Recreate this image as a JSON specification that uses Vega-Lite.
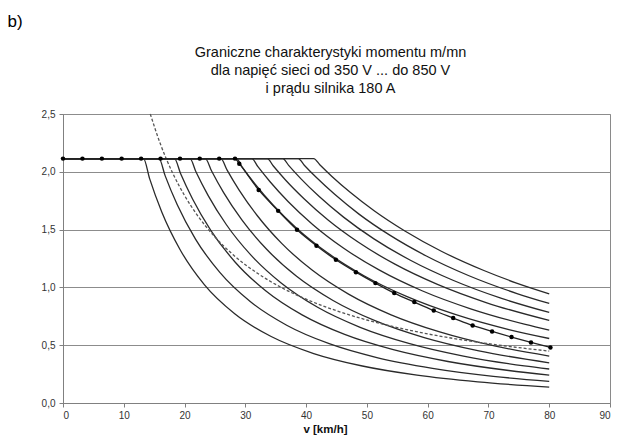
{
 "$schema": "https://vega.github.io/schema/vega-lite/v6.json",
 "width": 547,
 "height": 289,
 "autosize": {"type": "none"},
 "padding": {"left": 63, "top": 114, "right": 12, "bottom": 36},
 "background": "white",
 "config": {"font": "Liberation Sans", "view": {"stroke": "#8a8a8a", "strokeWidth": 1}},
 "title": {
  "text": ["Graniczne charakterystyki momentu m/mn", "dla napięć sieci od 350 V ... do 850 V", "i prądu silnika 180 A"],
  "anchor": "middle", "fontSize": 14.5, "fontWeight": "normal", "color": "#111", "lineHeight": 18, "offset": 12, "dx": -6, "dy": 96
 },
 "data": {"values": [
  {"seria":"c01","v":0,"m":2.114},{"seria":"c01","v":13.25,"m":2.114},{"seria":"c01","v":14.25,"m":1.941},{"seria":"c01","v":16.25,"m":1.653},{"seria":"c01","v":19.25,"m":1.328},{"seria":"c01","v":23.25,"m":1.024},{"seria":"c01","v":28.25,"m":0.772},{"seria":"c01","v":34.25,"m":0.575},{"seria":"c01","v":41.25,"m":0.428},{"seria":"c01","v":49.25,"m":0.32},{"seria":"c01","v":58.25,"m":0.241},{"seria":"c01","v":68.25,"m":0.183},{"seria":"c01","v":80,"m":0.138},
  {"seria":"c02","v":0,"m":2.114},{"seria":"c02","v":15.8,"m":2.114},{"seria":"c02","v":16.8,"m":1.967},{"seria":"c02","v":18.8,"m":1.715},{"seria":"c02","v":21.8,"m":1.418},{"seria":"c02","v":25.8,"m":1.13},{"seria":"c02","v":30.8,"m":0.878},{"seria":"c02","v":36.8,"m":0.673},{"seria":"c02","v":43.8,"m":0.513},{"seria":"c02","v":51.8,"m":0.391},{"seria":"c02","v":60.8,"m":0.3},{"seria":"c02","v":70.8,"m":0.231},{"seria":"c02","v":80,"m":0.187},
  {"seria":"c03","v":0,"m":2.114},{"seria":"c03","v":18.34,"m":2.114},{"seria":"c03","v":19.34,"m":1.986},{"seria":"c03","v":21.34,"m":1.763},{"seria":"c03","v":24.34,"m":1.492},{"seria":"c03","v":28.34,"m":1.218},{"seria":"c03","v":33.34,"m":0.971},{"seria":"c03","v":39.34,"m":0.762},{"seria":"c03","v":46.34,"m":0.593},{"seria":"c03","v":54.34,"m":0.461},{"seria":"c03","v":63.34,"m":0.359},{"seria":"c03","v":73.34,"m":0.281},{"seria":"c03","v":80,"m":0.242},
  {"seria":"c04","v":0,"m":2.114},{"seria":"c04","v":20.89,"m":2.114},{"seria":"c04","v":21.89,"m":1.998},{"seria":"c04","v":23.89,"m":1.794},{"seria":"c04","v":26.89,"m":1.542},{"seria":"c04","v":30.89,"m":1.281},{"seria":"c04","v":35.89,"m":1.038},{"seria":"c04","v":41.89,"m":0.828},{"seria":"c04","v":48.89,"m":0.655},{"seria":"c04","v":56.89,"m":0.516},{"seria":"c04","v":65.89,"m":0.406},{"seria":"c04","v":75.89,"m":0.321},{"seria":"c04","v":80,"m":0.294},
  {"seria":"c05","v":0,"m":2.114},{"seria":"c05","v":23.43,"m":2.114},{"seria":"c05","v":24.43,"m":2.009},{"seria":"c05","v":26.43,"m":1.82},{"seria":"c05","v":29.43,"m":1.584},{"seria":"c05","v":33.43,"m":1.334},{"seria":"c05","v":38.43,"m":1.096},{"seria":"c05","v":44.43,"m":0.887},{"seria":"c05","v":51.43,"m":0.71},{"seria":"c05","v":59.43,"m":0.566},{"seria":"c05","v":68.43,"m":0.451},{"seria":"c05","v":80,"m":0.348},
  {"seria":"c06","v":0,"m":2.114},{"seria":"c06","v":25.98,"m":2.114},{"seria":"c06","v":26.98,"m":2.017},{"seria":"c06","v":28.98,"m":1.842},{"seria":"c06","v":31.98,"m":1.62},{"seria":"c06","v":35.98,"m":1.381},{"seria":"c06","v":40.98,"m":1.15},{"seria":"c06","v":46.98,"m":0.942},{"seria":"c06","v":53.98,"m":0.763},{"seria":"c06","v":61.98,"m":0.615},{"seria":"c06","v":70.98,"m":0.494},{"seria":"c06","v":80,"m":0.406},
  {"seria":"c07","v":0,"m":2.114},{"seria":"c07","v":28.52,"m":2.114},{"seria":"c07","v":29.52,"m":2.038},{"seria":"c07","v":31.52,"m":1.899},{"seria":"c07","v":34.52,"m":1.715},{"seria":"c07","v":38.52,"m":1.508},{"seria":"c07","v":43.52,"m":1.299},{"seria":"c07","v":49.52,"m":1.101},{"seria":"c07","v":56.52,"m":0.922},{"seria":"c07","v":64.52,"m":0.766},{"seria":"c07","v":73.52,"m":0.633},{"seria":"c07","v":80,"m":0.558},
  {"seria":"c08","v":0,"m":2.114},{"seria":"c08","v":31.07,"m":2.114},{"seria":"c08","v":32.07,"m":2.044},{"seria":"c08","v":34.07,"m":1.914},{"seria":"c08","v":37.07,"m":1.741},{"seria":"c08","v":41.07,"m":1.545},{"seria":"c08","v":46.07,"m":1.343},{"seria":"c08","v":52.07,"m":1.149},{"seria":"c08","v":59.07,"m":0.971},{"seria":"c08","v":67.07,"m":0.815},{"seria":"c08","v":76.07,"m":0.68},{"seria":"c08","v":80,"m":0.631},
  {"seria":"c09","v":0,"m":2.114},{"seria":"c09","v":33.61,"m":2.114},{"seria":"c09","v":34.61,"m":2.05},{"seria":"c09","v":36.61,"m":1.929},{"seria":"c09","v":39.61,"m":1.769},{"seria":"c09","v":43.61,"m":1.583},{"seria":"c09","v":48.61,"m":1.39},{"seria":"c09","v":54.61,"m":1.201},{"seria":"c09","v":61.61,"m":1.026},{"seria":"c09","v":69.61,"m":0.869},{"seria":"c09","v":80,"m":0.714},
  {"seria":"c10","v":0,"m":2.114},{"seria":"c10","v":36.16,"m":2.114},{"seria":"c10","v":37.16,"m":2.053},{"seria":"c10","v":39.16,"m":1.939},{"seria":"c10","v":42.16,"m":1.786},{"seria":"c10","v":46.16,"m":1.608},{"seria":"c10","v":51.16,"m":1.42},{"seria":"c10","v":57.16,"m":1.235},{"seria":"c10","v":64.16,"m":1.062},{"seria":"c10","v":72.16,"m":0.905},{"seria":"c10","v":80,"m":0.783},
  {"seria":"c11","v":0,"m":2.114},{"seria":"c11","v":38.7,"m":2.114},{"seria":"c11","v":39.7,"m":2.057},{"seria":"c11","v":41.7,"m":1.95},{"seria":"c11","v":44.7,"m":1.805},{"seria":"c11","v":48.7,"m":1.634},{"seria":"c11","v":53.7,"m":1.454},{"seria":"c11","v":59.7,"m":1.274},{"seria":"c11","v":66.7,"m":1.103},{"seria":"c11","v":74.7,"m":0.947},{"seria":"c11","v":80,"m":0.861},
  {"seria":"c12","v":0,"m":2.114},{"seria":"c12","v":41.25,"m":2.114},{"seria":"c12","v":42.25,"m":2.061},{"seria":"c12","v":44.25,"m":1.96},{"seria":"c12","v":47.25,"m":1.823},{"seria":"c12","v":51.25,"m":1.661},{"seria":"c12","v":56.25,"m":1.488},{"seria":"c12","v":62.25,"m":1.313},{"seria":"c12","v":69.25,"m":1.146},{"seria":"c12","v":74.5,"m":1.04},{"seria":"c12","v":80,"m":0.945},
  {"seria":"pomiar","v":0,"m":2.114},{"seria":"pomiar","v":3.2,"m":2.114},{"seria":"pomiar","v":6.4,"m":2.114},{"seria":"pomiar","v":9.65,"m":2.114},{"seria":"pomiar","v":12.85,"m":2.114},{"seria":"pomiar","v":16.05,"m":2.114},{"seria":"pomiar","v":19.25,"m":2.114},{"seria":"pomiar","v":22.5,"m":2.114},{"seria":"pomiar","v":25.7,"m":2.114},{"seria":"pomiar","v":28.3,"m":2.114},{"seria":"pomiar","v":29.0,"m":2.07},{"seria":"pomiar","v":32.2,"m":1.843},{"seria":"pomiar","v":35.4,"m":1.662},{"seria":"pomiar","v":38.5,"m":1.498},{"seria":"pomiar","v":41.7,"m":1.36},{"seria":"pomiar","v":44.9,"m":1.239},{"seria":"pomiar","v":48.2,"m":1.132},{"seria":"pomiar","v":51.4,"m":1.037},{"seria":"pomiar","v":54.5,"m":0.951},{"seria":"pomiar","v":57.8,"m":0.873},{"seria":"pomiar","v":61.0,"m":0.8},{"seria":"pomiar","v":64.2,"m":0.735},{"seria":"pomiar","v":67.4,"m":0.671},{"seria":"pomiar","v":70.6,"m":0.619},{"seria":"pomiar","v":73.8,"m":0.57},{"seria":"pomiar","v":77.0,"m":0.524},{"seria":"pomiar","v":80.2,"m":0.481},
  {"seria":"granica","v":14.36,"m":2.5},{"seria":"granica","v":16,"m":2.244},{"seria":"granica","v":18,"m":1.994},{"seria":"granica","v":20,"m":1.795},{"seria":"granica","v":22,"m":1.632},{"seria":"granica","v":25,"m":1.436},{"seria":"granica","v":28,"m":1.282},{"seria":"granica","v":32,"m":1.122},{"seria":"granica","v":36,"m":0.997},{"seria":"granica","v":40,"m":0.898},{"seria":"granica","v":45,"m":0.798},{"seria":"granica","v":50,"m":0.718},{"seria":"granica","v":55,"m":0.653},{"seria":"granica","v":60,"m":0.598},{"seria":"granica","v":65,"m":0.552},{"seria":"granica","v":70,"m":0.513},{"seria":"granica","v":75,"m":0.479},{"seria":"granica","v":80,"m":0.449}
 ]},
 "encoding": {
  "x": {"field": "v", "type": "quantitative", "scale": {"domain": [0, 90], "nice": false},
   "axis": {"values": [0,10,20,30,40,50,60,70,80,90], "grid": false, "domainColor": "#808080", "tickColor": "#808080", "tickSize": 4,
    "labelFontSize": 10, "labelColor": "#333", "labelPadding": 3,
    "title": "v [km/h]", "titleFontSize": 11.5, "titleFontWeight": "bold", "titleColor": "#111", "titlePadding": 3, "titleX": 262}},
  "y": {"field": "m", "type": "quantitative", "scale": {"domain": [0, 2.5], "nice": false},
   "axis": {"values": [0,0.5,1,1.5,2,2.5], "grid": true, "gridColor": "#8c8c8c", "domainColor": "#808080", "tickColor": "#808080", "tickSize": 4,
    "labelFontSize": 10, "labelColor": "#333", "labelPadding": 4,
    "labelExpr": "replace(format(datum.value, '.1f'), '.', ',')",
    "title": "b)", "titleAngle": 0, "titleAlign": "left", "titleBaseline": "top", "titleX": -56, "titleY": -101,
    "titleFontSize": 17, "titleFontWeight": "normal", "titleColor": "#000"}}
 },
 "layer": [
  {"transform": [{"filter": "datum.seria != 'granica' && datum.seria != 'pomiar'"}],
   "mark": {"type": "line", "interpolate": "monotone", "color": "#2a2a2a", "strokeWidth": 1.3},
   "encoding": {"detail": {"field": "seria"}}},
  {"transform": [{"filter": "datum.seria == 'granica'"}],
   "mark": {"type": "line", "interpolate": "monotone", "color": "#555555", "strokeDash": [3, 2], "strokeWidth": 1.3},
   "encoding": {}},
  {"transform": [{"filter": "datum.seria == 'pomiar'"}],
   "mark": {"type": "line", "interpolate": "monotone", "color": "#222222", "strokeWidth": 1.3},
   "encoding": {}},
  {"transform": [{"filter": "datum.seria == 'pomiar'"}],
   "mark": {"type": "point", "filled": true, "color": "#000000", "size": 20, "opacity": 1},
   "encoding": {}}
 ]
}
